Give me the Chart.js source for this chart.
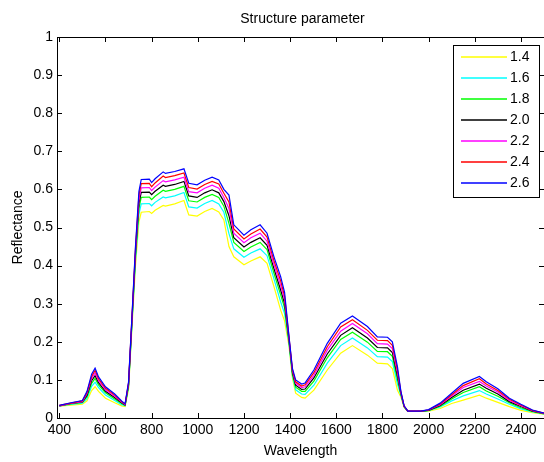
<!DOCTYPE html>
<html>
<head>
<meta charset="utf-8">
<title>Structure parameter</title>
<script src="https://cdn.jsdelivr.net/npm/chart.js@4/dist/chart.umd.min.js"></script>
<style>
  html, body { margin: 0; padding: 0; background: #fff; }
  #wrap { width: 544px; height: 462px; }
</style>
</head>
<body>
<div id="wrap"><canvas id="spectra" width="544" height="462"></canvas></div>
<script>
// wavelength (nm) and leaf reflectance for each structure parameter N
const wavelength = [400, 450, 500, 520, 540, 555, 570, 600, 640, 670, 685, 700, 715, 730, 745,
  755, 790, 800, 815, 850, 860, 900, 940, 961, 997, 1030, 1062, 1091, 1113, 1135,
  1156, 1200, 1230, 1270, 1300, 1330, 1359, 1376, 1395, 1410, 1424, 1450, 1465, 1503, 1561,
  1619, 1670, 1735, 1778, 1822, 1843, 1865, 1880, 1894, 1910, 1966, 2000, 2050, 2100, 2150,
  2220, 2250, 2300, 2350, 2400, 2450, 2500];

const n14 = [.031, .034, .036, .045, .072, .082, .070, .052, .040, .032, .030, .075, .240, .400, .515,
  .540, .542, .537, .545, .558, .556, .562, .571, .533, .530, .542, .550, .541, .520, .450,
  .423, .402, .412, .423, .406, .345, .283, .255, .190, .105, .065, .054, .052, .073, .126,
  .170, .190, .165, .144, .142, .130, .073, .055, .028, .017, .017, .018, .025, .038, .047,
  .060, .052, .041, .030, .020, .014, .010];
const n16 = [.032, .036, .039, .051, .083, .094, .080, .060, .046, .035, .032, .080, .248, .413, .535,
  .562, .563, .557, .566, .580, .578, .583, .592, .554, .551, .563, .571, .562, .540, .484,
  .444, .422, .433, .444, .426, .365, .305, .274, .196, .111, .074, .063, .062, .086, .144,
  .190, .210, .184, .161, .160, .148, .089, .059, .029, .017, .017, .019, .029, .045, .058,
  .072, .063, .050, .036, .024, .016, .011];
const n18 = [.032, .037, .041, .056, .091, .104, .087, .066, .050, .038, .033, .084, .254, .423, .551,
  .579, .580, .573, .582, .598, .595, .600, .608, .570, .567, .579, .587, .579, .556, .511,
  .461, .437, .449, .461, .442, .380, .323, .289, .201, .116, .081, .070, .070, .097, .158,
  .206, .225, .199, .175, .174, .162, .101, .062, .030, .017, .017, .020, .031, .050, .067,
  .082, .071, .057, .040, .027, .017, .011];
const n20 = [.032, .038, .042, .060, .098, .111, .093, .070, .054, .040, .034, .087, .258, .430, .563,
  .592, .593, .586, .595, .611, .608, .613, .621, .583, .579, .591, .599, .591, .568, .531,
  .473, .449, .461, .473, .453, .392, .336, .300, .205, .120, .086, .075, .076, .105, .168,
  .217, .237, .210, .185, .184, .172, .110, .064, .030, .018, .018, .020, .033, .054, .073,
  .089, .078, .063, .043, .030, .018, .012];
const n22 = [.032, .038, .043, .064, .104, .118, .098, .074, .057, .042, .035, .090, .262, .437, .574,
  .604, .605, .597, .606, .623, .620, .625, .632, .594, .591, .603, .611, .603, .579, .550,
  .485, .460, .473, .485, .464, .403, .348, .311, .209, .124, .091, .080, .082, .112, .178,
  .228, .248, .221, .195, .194, .182, .119, .066, .031, .018, .018, .021, .035, .058, .080,
  .096, .084, .068, .046, .032, .019, .012];
const n24 = [.033, .039, .045, .067, .109, .125, .103, .078, .060, .043, .036, .092, .266, .444, .585,
  .615, .616, .607, .617, .635, .631, .636, .643, .605, .601, .613, .621, .614, .590, .567,
  .496, .470, .483, .496, .475, .413, .360, .320, .213, .127, .095, .084, .087, .119, .187,
  .239, .258, .230, .204, .203, .191, .127, .068, .031, .018, .018, .021, .037, .061, .085,
  .103, .089, .072, .049, .034, .020, .013];
const n26 = [.033, .040, .046, .070, .115, .131, .108, .082, .063, .045, .037, .095, .270, .450, .595,
  .626, .627, .618, .628, .646, .642, .647, .654, .616, .612, .624, .632, .625, .600, .585,
  .507, .480, .494, .507, .485, .423, .371, .330, .215, .130, .100, .089, .092, .126, .196,
  .249, .268, .240, .213, .212, .200, .135, .070, .032, .018, .018, .022, .039, .065, .091,
  .109, .095, .077, .052, .036, .021, .013];

const seriesLabels = ["1.4", "1.6", "1.8", "2.0", "2.2", "2.4", "2.6"];
const seriesValues = [n14, n16, n18, n20, n22, n24, n26];
const seriesColors = ["#ffff00", "#00ffff", "#00ff00", "#000000", "#ff00ff", "#ff0000", "#0000ff"];

const xTicks = [400, 600, 800, 1000, 1200, 1400, 1600, 1800, 2000, 2200, 2400];
const yTicks = [0, 0.1, 0.2, 0.3, 0.4, 0.5, 0.6, 0.7, 0.8, 0.9, 1];

const FONT = "Liberation Sans, Arial, sans-serif";
const FONT_SIZE = 14;
const tickLen = 5;

// boxed axes with inward ticks, titles and the legend
const matlabFrame = {
  id: "matlabFrame",
  afterDraw(chart) {
    const { ctx, chartArea: a, scales: { x, y } } = chart;
    ctx.save();
    ctx.strokeStyle = "#000";
    ctx.lineWidth = 1;
    ctx.strokeRect(a.left + 0.5, a.top + 0.5, a.right - a.left, a.bottom - a.top);

    ctx.beginPath();
    xTicks.forEach(v => {
      const px = Math.round(x.getPixelForValue(v)) + 0.5;
      ctx.moveTo(px, a.bottom); ctx.lineTo(px, a.bottom - tickLen);
      ctx.moveTo(px, a.top); ctx.lineTo(px, a.top + tickLen);
    });
    yTicks.forEach(v => {
      const py = Math.round(y.getPixelForValue(v)) + 0.5;
      ctx.moveTo(a.left, py); ctx.lineTo(a.left + tickLen, py);
      ctx.moveTo(a.right, py); ctx.lineTo(a.right - tickLen, py);
    });
    ctx.stroke();

    ctx.fillStyle = "#000";
    ctx.font = FONT_SIZE + "px " + FONT;
    ctx.textAlign = "center";
    ctx.textBaseline = "middle";
    ctx.fillText("Structure parameter", (a.left + a.right) / 2 + 2, 19);
    ctx.fillText("Wavelength", (a.left + a.right) / 2, 451);
    ctx.save();
    ctx.translate(18, (a.top + a.bottom) / 2);
    ctx.rotate(-Math.PI / 2);
    ctx.fillText("Reflectance", 0, 0);
    ctx.restore();

    // legend
    const lx = 453, ly = 45, lw = 86, lh = 152;
    ctx.fillStyle = "#fff";
    ctx.fillRect(lx, ly, lw, lh);
    ctx.strokeStyle = "#000";
    ctx.strokeRect(lx + 0.5, ly + 0.5, lw, lh);
    ctx.textAlign = "left";
    ctx.lineWidth = 1.5;
    seriesLabels.forEach((lab, i) => {
      const ry = 57 + i * 21;
      ctx.strokeStyle = seriesColors[i];
      ctx.beginPath();
      ctx.moveTo(461, ry);
      ctx.lineTo(507, ry);
      ctx.stroke();
      ctx.fillStyle = "#000";
      ctx.fillText(lab, 510, ry + 0.5);
    });
    ctx.restore();
  }
};

new Chart(document.getElementById("spectra"), {
  type: "line",
  data: {
    datasets: seriesValues.map((vals, i) => ({
      label: seriesLabels[i],
      data: wavelength.map((w, k) => ({ x: w, y: vals[k] })),
      borderColor: seriesColors[i],
      borderWidth: 1.2,
      pointRadius: 0,
      tension: 0,
      fill: false,
      order: seriesValues.length - i
    }))
  },
  options: {
    responsive: false,
    animation: false,
    events: [],
    layout: { padding: { top: 37, left: 0, right: 0, bottom: 0 } },
    plugins: {
      legend: { display: false },
      tooltip: { enabled: false },
      title: { display: false }
    },
    scales: {
      x: {
        type: "linear",
        min: 390,
        max: 2500,
        afterBuildTicks: s => { s.ticks = xTicks.map(v => ({ value: v })); },
        afterFit: s => { s.height = 44; },
        grid: { display: false, drawTicks: false },
        border: { display: false },
        ticks: {
          color: "#000",
          font: { family: FONT, size: FONT_SIZE },
          padding: 4,
          maxRotation: 0,
          autoSkip: false,
          callback: v => String(v)
        }
      },
      y: {
        type: "linear",
        min: 0,
        max: 1,
        afterBuildTicks: s => { s.ticks = yTicks.map(v => ({ value: v })); },
        afterFit: s => { s.width = 57; },
        grid: { display: false, drawTicks: false },
        border: { display: false },
        ticks: {
          color: "#000",
          font: { family: FONT, size: FONT_SIZE },
          padding: 4,
          autoSkip: false,
          callback: v => String(Math.round(v * 10) / 10)
        }
      }
    }
  },
  plugins: [matlabFrame]
});
</script>
</body>
</html>
